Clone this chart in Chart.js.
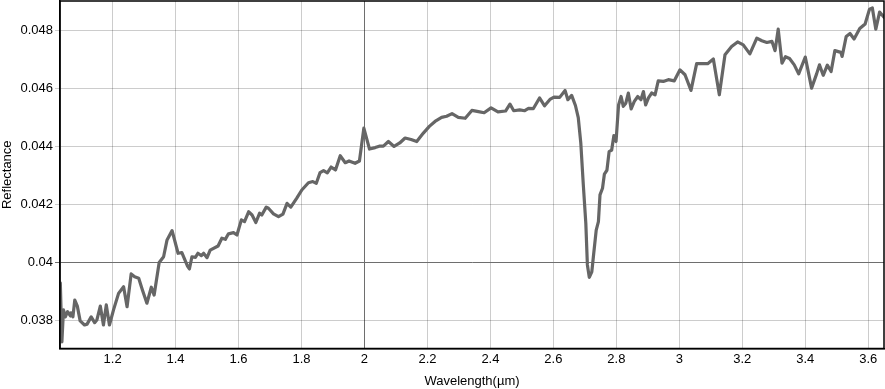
<!DOCTYPE html>
<html>
<head>
<meta charset="utf-8">
<script src="https://cdn.jsdelivr.net/npm/chart.js@4"></script>
<style>
  body { margin: 0; background: #fff; }
</style>
</head>
<body>
<canvas id="grafico" width="885" height="389"></canvas>
<script>
// wavelength in µm
const wavelength = [
  1.034, 1.039, 1.044, 1.050, 1.057, 1.066, 1.068, 1.074, 1.080, 1.088,
  1.097, 1.111, 1.119, 1.132, 1.143, 1.150, 1.161, 1.171, 1.180, 1.190,
  1.203, 1.219, 1.235, 1.246, 1.259, 1.270, 1.283, 1.295, 1.309, 1.323,
  1.332, 1.348, 1.362, 1.373, 1.389, 1.408, 1.420, 1.438, 1.444, 1.452,
  1.463, 1.471, 1.482, 1.489, 1.500, 1.510, 1.535, 1.547, 1.558, 1.568,
  1.584, 1.595, 1.609, 1.619, 1.632, 1.643, 1.655, 1.667, 1.674, 1.688,
  1.695, 1.711, 1.727, 1.741, 1.754, 1.766, 1.785, 1.801, 1.822, 1.836,
  1.847, 1.859, 1.870, 1.882, 1.894, 1.908, 1.923, 1.939, 1.951, 1.970,
  1.984, 1.998, 2.016, 2.034, 2.047, 2.060, 2.076, 2.094, 2.112, 2.129,
  2.148, 2.166, 2.187, 2.206, 2.224, 2.245, 2.261, 2.278, 2.298, 2.320,
  2.341, 2.362, 2.380, 2.402, 2.424, 2.448, 2.462, 2.474, 2.493, 2.509,
  2.521, 2.536, 2.556, 2.572, 2.589, 2.602, 2.620, 2.637, 2.646, 2.658,
  2.670, 2.679, 2.687, 2.695, 2.703, 2.708, 2.714, 2.722, 2.727, 2.736,
  2.743, 2.748, 2.756, 2.762, 2.770, 2.777, 2.785, 2.792, 2.799, 2.807,
  2.815, 2.822, 2.830, 2.838, 2.847, 2.857, 2.868, 2.878, 2.886, 2.893,
  2.902, 2.912, 2.923, 2.933, 2.949, 2.965, 2.984, 3.002, 3.018, 3.037,
  3.055, 3.071, 3.090, 3.108, 3.127, 3.145, 3.166, 3.185, 3.203, 3.224,
  3.246, 3.262, 3.278, 3.294, 3.304, 3.314, 3.326, 3.337, 3.350, 3.365,
  3.379, 3.400, 3.420, 3.436, 3.445, 3.457, 3.470, 3.482, 3.494, 3.513,
  3.517, 3.530, 3.542, 3.555, 3.573, 3.590, 3.604, 3.613, 3.624, 3.636,
  3.650
];

const reflectance = [
  0.03929, 0.03726, 0.03836, 0.03812, 0.03830, 0.03815, 0.03826, 0.03812, 0.03870, 0.03849,
  0.03798, 0.03784, 0.03787, 0.03812, 0.03792, 0.03801, 0.03849, 0.03784, 0.03853, 0.03784,
  0.03836, 0.03893, 0.03916, 0.03847, 0.03960, 0.03950, 0.03945, 0.03904, 0.03859, 0.03914,
  0.03887, 0.03999, 0.04019, 0.04077, 0.04109, 0.04031, 0.04033, 0.03987, 0.03977, 0.04019,
  0.04017, 0.04031, 0.04023, 0.04031, 0.04016, 0.04042, 0.04056, 0.04083, 0.04079, 0.04098,
  0.04102, 0.04094, 0.04146, 0.04140, 0.04174, 0.04163, 0.04137, 0.04169, 0.04163, 0.04190,
  0.04186, 0.04167, 0.04157, 0.04166, 0.04203, 0.04190, 0.04221, 0.04249, 0.04274, 0.04278,
  0.04272, 0.04309, 0.04316, 0.04308, 0.04328, 0.04318, 0.04367, 0.04343, 0.04349, 0.04341,
  0.04349, 0.04462, 0.04390, 0.04395, 0.04400, 0.04400, 0.04416, 0.04399, 0.04411, 0.04428,
  0.04423, 0.04416, 0.04445, 0.04468, 0.04485, 0.04499, 0.04503, 0.04512, 0.04499, 0.04496,
  0.04523, 0.04519, 0.04515, 0.04532, 0.04518, 0.04521, 0.04545, 0.04522, 0.04525, 0.04522,
  0.04530, 0.04529, 0.04566, 0.04539, 0.04561, 0.04569, 0.04568, 0.04592, 0.04560, 0.04575,
  0.04540, 0.04498, 0.04411, 0.04267, 0.04134, 0.03991, 0.03948, 0.03967, 0.04019, 0.04111,
  0.04140, 0.04232, 0.04255, 0.04304, 0.04317, 0.04381, 0.04386, 0.04436, 0.04416, 0.04542,
  0.04571, 0.04537, 0.04548, 0.04583, 0.04528, 0.04554, 0.04571, 0.04560, 0.04588, 0.04542,
  0.04566, 0.04583, 0.04577, 0.04625, 0.04623, 0.04629, 0.04625, 0.04663, 0.04646, 0.04592,
  0.04684, 0.04684, 0.04684, 0.04700, 0.04577, 0.04715, 0.04743, 0.04759, 0.04749, 0.04718,
  0.04772, 0.04763, 0.04757, 0.04761, 0.04729, 0.04803, 0.04686, 0.04708, 0.04702, 0.04680,
  0.04649, 0.04707, 0.04600, 0.04649, 0.04680, 0.04644, 0.04679, 0.04657, 0.04729, 0.04723,
  0.04709, 0.04778, 0.04788, 0.04769, 0.04805, 0.04821, 0.04872, 0.04876, 0.04803, 0.04862,
  0.04844
];

const xTicks = [1.2, 1.4, 1.6, 1.8, 2, 2.2, 2.4, 2.6, 2.8, 3, 3.2, 3.4, 3.6];
const yTicks = [0.038, 0.04, 0.042, 0.044, 0.046, 0.048];

const pontos = wavelength.map((w, i) => ({ x: w, y: reflectance[i] }));

const fonte = { family: 'Liberation Sans, Arial, sans-serif', size: 13 };

// linhas mais escuras em x=2 e y=0.04
const corGrade = (destaque) => (c) =>
  c.tick && Math.abs(c.tick.value - destaque) < 1e-9 ? '#6e6e6e' : 'rgba(0,0,0,0.2)';

const moldura = {
  id: 'moldura',
  afterDraw(chart) {
    const a = chart.chartArea;
    const g = chart.ctx;
    g.save();
    g.strokeStyle = '#000';
    g.lineWidth = 1.5;
    g.strokeRect(a.left, a.top, a.right - a.left, a.bottom - a.top);
    g.restore();
  }
};

const ctx = document.getElementById('grafico').getContext('2d');

new Chart(ctx, {
  type: 'line',
  data: {
    datasets: [{
      label: 'Reflectance',
      data: pontos,
      borderColor: '#666666',
      borderWidth: 3.2,
      borderJoinStyle: 'round',
      borderCapStyle: 'round',
      pointRadius: 0,
      tension: 0,
      fill: false
    }]
  },
  options: {
    responsive: false,
    animation: false,
    layout: { padding: { top: 1, right: 1 } },
    plugins: {
      legend: { display: false },
      tooltip: { enabled: false }
    },
    scales: {
      x: {
        type: 'linear',
        min: 1.033,
        max: 3.65,
        afterBuildTicks: (s) => { s.ticks = xTicks.map(v => ({ value: v })); },
        afterFit: (s) => { s.height = 40.5; s.paddingLeft = 0; s.paddingRight = 0; },
        ticks: {
          color: '#000',
          font: fonte,
          padding: 3,
          maxRotation: 0,
          callback: (v) => String(+v.toFixed(3))
        },
        grid: { color: corGrade(2), drawTicks: false },
        border: { color: '#000', width: 1.5 },
        title: {
          display: true,
          text: 'Wavelength(µm)',
          color: '#000',
          font: fonte,
          padding: { top: 6, bottom: 0 }
        }
      },
      y: {
        min: 0.03703,
        max: 0.049,
        afterBuildTicks: (s) => { s.ticks = yTicks.map(v => ({ value: v })); },
        afterFit: (s) => { s.width = 60; s.paddingTop = 0; s.paddingBottom = 0; },
        ticks: {
          color: '#000',
          font: fonte,
          padding: 2,
          callback: (v) => String(+v.toFixed(4))
        },
        grid: { color: corGrade(0.04), tickLength: 5 },
        border: { color: '#000', width: 1.5 },
        title: {
          display: true,
          text: 'Reflectance',
          color: '#000',
          font: fonte,
          padding: { top: 0, bottom: 0 }
        }
      }
    }
  },
  plugins: [moldura]
});
</script>
</body>
</html>
